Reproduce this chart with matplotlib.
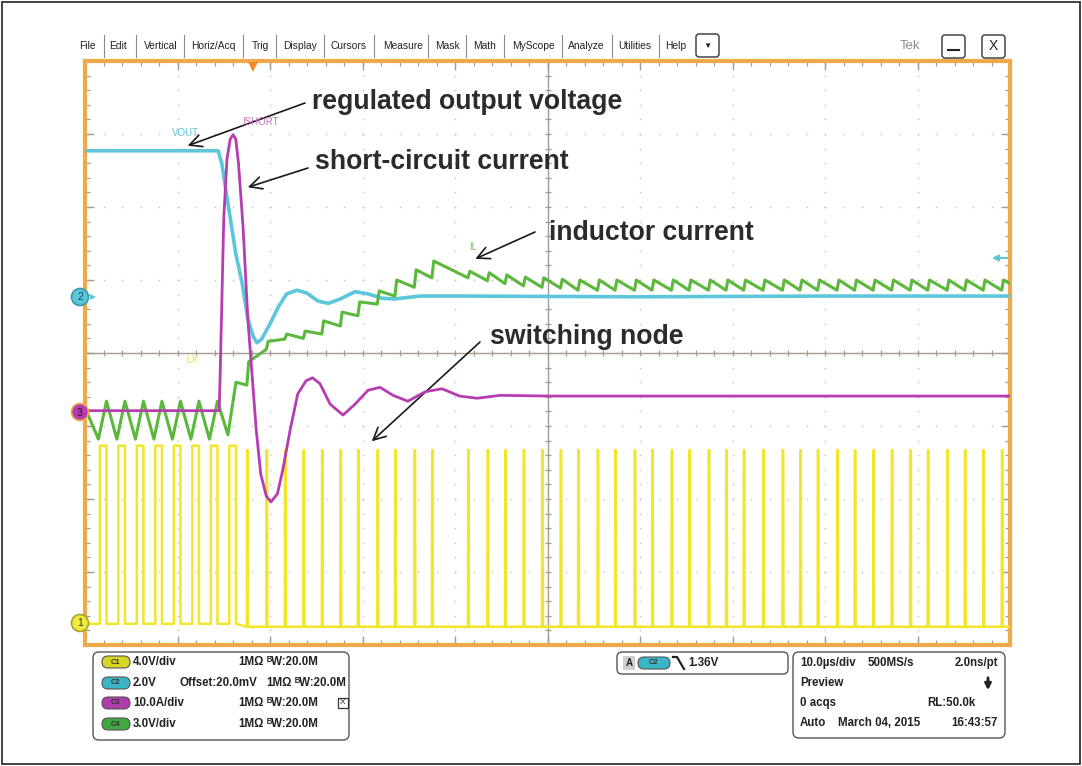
import numpy as np
import matplotlib.pyplot as plt
from matplotlib.patches import FancyBboxPatch, Rectangle, Circle

plt.rcParams['font.family'] = ['Liberation Sans', 'DejaVu Sans']

# time in µs (10 µs/div), values in screen divisions (8 div tall, 0 = centre)
vout_t = [0, 14.4, 14.8, 15.2, 15.8, 16.3, 17.0, 17.6, 18.2, 18.6, 19.1, 20.0, 20.9, 21.8,
          22.9, 24.0, 25.2, 26.3, 27.6, 29.2, 30.6, 32.1, 33.5, 36.2, 40.5, 60, 80, 100]
vout_v = [2.77, 2.77, 2.59, 2.25, 1.77, 1.36, 0.95, 0.47, 0.22, 0.14, 0.19, 0.40, 0.63, 0.81,
          0.86, 0.82, 0.71, 0.68, 0.74, 0.84, 0.81, 0.75, 0.74, 0.78, 0.78, 0.77, 0.78, 0.78]

ishort_t = [0, 14.5, 14.6, 14.8, 15.0, 15.35, 15.7, 16.0, 16.3, 16.6, 17.1, 17.6, 18.1, 18.5,
            19.0, 19.6, 20.1, 20.8, 21.4, 22.2, 23.0, 23.9, 24.6, 25.4, 26.5, 27.9, 29.2,
            30.6, 31.9, 33.3, 34.9, 36.8, 38.6, 40.5, 42.4, 44.9, 50.3, 100]
ishort_v = [-0.79, -0.79, -0.36, 0.74, 1.84, 2.66, 2.93, 2.99, 2.93, 2.59, 1.70, 0.47, -0.36,
            -1.04, -1.66, -1.96, -2.04, -1.93, -1.59, -1.04, -0.56, -0.38, -0.34, -0.42, -0.70,
            -0.85, -0.70, -0.51, -0.47, -0.58, -0.66, -0.53, -0.49, -0.59, -0.62, -0.58, -0.59,
            -0.59]

# switching node (LX): wide pulses before the short, narrow spikes after it
sw_pre = [1.6, 3.6, 5.6, 7.6, 9.6, 11.6, 13.6, 15.6]
sw_post = [17.5, 19.6, 21.6, 23.6, 25.6, 27.6, 29.5, 31.6, 33.5, 35.6, 37.5, 41.4, 43.5,
           45.4, 47.4, 49.4, 51.4, 53.3, 55.4, 57.3, 59.4, 61.3, 63.4, 65.3, 67.4, 69.3,
           71.2, 73.3, 75.4, 77.3, 79.2, 81.3, 83.2, 85.2, 87.2, 89.2, 91.1, 93.2, 95.1,
           97.1, 99.1]
lx_pre_low, lx_pre_high = -3.71, -1.27
lx_post_low, lx_post_high = -3.75, -1.33

# inductor current: valley / peak of each switching cycle
il_start = -0.75
il_pre_lo = [-1.18, -1.18, -1.18, -1.18, -1.18, -1.18, -1.18, -1.12]
il_pre_hi = [-0.66, -0.66, -0.66, -0.66, -0.66, -0.66, -0.66, -0.40]
il_post_lo = [-0.44, 0.05, 0.19, 0.20, 0.26, 0.37, 0.51, 0.67, 0.78, 0.90, 1.03, 1.03, 0.99,
              0.95, 0.92, 0.90, 0.89, 0.86, 0.86, 0.86, 0.86, 0.86, 0.86, 0.86, 0.86, 0.86,
              0.86, 0.86, 0.86, 0.86, 0.86, 0.86, 0.86, 0.86, 0.86, 0.86, 0.86, 0.86, 0.86,
              0.86, 0.86]
il_post_hi = [-0.12, 0.16, 0.26, 0.30, 0.44, 0.56, 0.70, 0.85, 1.00, 1.14, 1.26, 1.12, 1.10,
              1.07, 1.04, 1.03, 1.01, 1.00, 1.00, 1.00, 1.00, 1.00, 1.00, 1.00, 1.00, 1.00,
              1.00, 1.00, 1.00, 1.00, 1.00, 1.00, 1.00, 1.00, 1.00, 1.00, 1.00, 1.00, 1.00,
              1.00, 1.00]
il_end = 0.95
on_pre, on_post = 0.72, 0.08

YEL, CYA, MAG, GRN = '#f2e62a', '#5cc6da', '#b63cb2', '#5cb83c'
ORANGE = '#f0a94a'

W, H = 1082, 766
fig = plt.figure(figsize=(W / 100, H / 100), dpi=100)
L, R, T, B = 85, 1010, 61, 645
ax = fig.add_axes([L / W, 1 - B / H, (R - L) / W, (B - T) / H])
ax.set_xlim(0, 100)
ax.set_ylim(-4, 4)
ax.set_xticks([])
ax.set_yticks([])
for s in ax.spines.values():
    s.set_color(ORANGE)
    s.set_linewidth(3)

px = 100 / (R - L)
py = 8 / (B - T)

# graticule
dot_y = np.arange(-4, 4.01, 0.2)
dot_x = np.arange(0, 100.1, 2)
for x in range(10, 100, 10):
    if x != 50:
        ax.plot([x] * len(dot_y), dot_y, ls='none', marker='s', ms=1.1, color='#c4c4c4', mew=0)
for y in range(-3, 4):
    if y != 0:
        ax.plot(dot_x, [y] * len(dot_x), ls='none', marker='s', ms=1.1, color='#c4c4c4', mew=0)
gc = '#a29c92'
ax.axhline(0, color=gc, lw=1)
ax.axvline(50, color=gc, lw=1)
minx = np.arange(2, 100, 2)
miny = np.arange(-3.8, 4, 0.2)
ax.vlines(minx, -3 * py, 3 * py, color=gc, lw=0.9)
ax.hlines(miny, 50 - 3 * px, 50 + 3 * px, color=gc, lw=0.9)
ax.vlines(minx, 4 - 5 * py, 4, color=gc, lw=0.9)
ax.vlines(minx, -4, -4 + 5 * py, color=gc, lw=0.9)
ax.hlines(miny, 0, 5 * px, color=gc, lw=0.9)
ax.hlines(miny, 100 - 5 * px, 100, color=gc, lw=0.9)
majx = np.arange(10, 100, 10)
majy = np.arange(-3, 4, 1)
ax.vlines(majx, 4 - 9 * py, 4, color=gc, lw=1)
ax.vlines(majx, -4, -4 + 9 * py, color=gc, lw=1)
ax.hlines(majy, 0, 9 * px, color=gc, lw=1)
ax.hlines(majy, 100 - 9 * px, 100, color=gc, lw=1)

# LX trace
lx_t, lx_v = [0], [lx_pre_low]
for t in sw_pre:
    lx_t += [t, t, t + on_pre, t + on_pre]
    lx_v += [lx_pre_low, lx_pre_high, lx_pre_high, lx_pre_low]
for t in sw_post:
    lx_t += [t, t + 0.03, t + on_post, t + on_post + 0.03]
    lx_v += [lx_post_low, lx_post_high, lx_post_high, lx_post_low]
lx_t.append(100)
lx_v.append(lx_post_low)
ax.plot(lx_t, lx_v, color=YEL, lw=1.8, zorder=3)

# inductor current
il_t, il_v = [0], [il_start]
for t, lo, hi in zip(sw_pre, il_pre_lo, il_pre_hi):
    il_t += [t - 0.15, t + on_pre]
    il_v += [lo, hi]
for t, lo, hi in zip(sw_post, il_post_lo, il_post_hi):
    il_t += [t, t + 0.2]
    il_v += [lo, hi]
il_t.append(100)
il_v.append(il_end)
ax.plot(vout_t, vout_v, color=CYA, lw=2.6, zorder=4)
ax.plot(il_t, il_v, color=GRN, lw=2.2, zorder=5)
ax.plot(ishort_t, ishort_v, color=MAG, lw=2.0, zorder=6)

# overlay in figure pixels for the scope UI
ui = fig.add_axes([0, 0, 1, 1], zorder=5)
ui.set_xlim(0, W)
ui.set_ylim(H, 0)
ui.axis('off')
ui.add_patch(Rectangle((2, 2), W - 4, H - 4, fc='none', ec='#222', lw=1.2))

menu = ['File', 'Edit', 'Vertical', 'Horiz/Acq', 'Trig', 'Display', 'Cursors', 'Measure',
        'Mask', 'Math', 'MyScope', 'Analyze', 'Utilities', 'Help']
menu_x = [87, 118, 161, 213, 260, 300, 349, 403, 448, 485, 533, 586, 635, 676]
seps = [104, 136, 184, 243, 276, 324, 374, 428, 466, 504, 562, 612, 659]
for m, x in zip(menu, menu_x):
    ui.text(x, 46, m, fontsize=7.4, ha='center', va='center', color='#222')
for x in seps:
    ui.plot([x, x], [35, 57], color='#8a8a8a', lw=0.8)


def rbox(x, y, w, h, r=4, fc='white', ec='#333', lw=1.0):
    ui.add_patch(FancyBboxPatch((x, y), w, h, boxstyle=f'round,pad=0,rounding_size={r}',
                                fc=fc, ec=ec, lw=lw))


rbox(696, 34, 23, 23, 3)
ui.text(707.5, 46, '▼', fontsize=6, ha='center', va='center', color='#222')
ui.text(910, 46, 'Tek', fontsize=9.5, ha='center', va='center', color='#8c8c8c')
rbox(942, 35, 23, 23, 3)
ui.plot([948, 959], [50, 50], color='#222', lw=1.5)
rbox(982, 35, 23, 23, 3)
ui.text(993.5, 46.5, 'X', fontsize=10, ha='center', va='center', color='#222')

# trigger position and level markers
ui.plot([253], [67], marker='v', ms=7, color='#f08a2a', mew=0)
ui.annotate('', xy=(989, 258), xytext=(1010, 258),
            arrowprops=dict(arrowstyle='-|>', color=CYA, lw=1.5, mutation_scale=9))

# channel reference markers
for lab, y, fc, ec, tc in [('2', 297, CYA, '#3a98aa', '#17485a'),
                           ('3', 412, MAG, ORANGE, '#2a0a2a'),
                           ('1', 623, '#eeea3a', '#a8a030', '#333')]:
    ui.add_patch(Circle((80, y), 8.5, fc=fc, ec=ec, lw=1.2, zorder=7))
    ui.text(80, y + 0.5, lab, fontsize=7.5, ha='center', va='center', color=tc, zorder=8)
ui.plot([93], [297], marker='>', ms=4, color=CYA, mew=0)

# small trace labels
ui.text(185, 133, 'VOUT', fontsize=7, ha='center', va='center', color=CYA)
ui.text(260, 122, 'ISHORT', fontsize=7, ha='center', va='center', color='#c870c6')
ui.text(192, 360, 'LX', fontsize=7, ha='center', va='center', color='#e8dc50')
ui.text(473, 247, 'IL', fontsize=7, ha='center', va='center', color='#7cc860')

# annotations
notes = [('regulated output voltage', 312, 102, (305, 103), (11.1, 2.84)),
         ('short-circuit current', 315, 162, (308, 168), (17.6, 2.27)),
         ('inductor current', 549, 233, (535, 232), (42.2, 1.29)),
         ('switching node', 490, 337, (480, 342), (31.0, -1.21))]
for txt, x, y, tail, head in notes:
    ui.text(x, y, txt, fontsize=19.2, weight='bold', ha='left', va='center', color='#2b2b2b')
    ax.annotate('', xy=head, xycoords='data', xytext=tail, textcoords=ui.transData,
                arrowprops=dict(arrowstyle='->', color='#1a1a1a', lw=1.2, mutation_scale=22,
                                shrinkA=0, shrinkB=0))

# channel settings box
rbox(93, 652, 256, 88, 6, ec='#555')
pill_c = ['#d8d424', '#3cb4c8', '#b03cb0', '#40a840']
rows = [662, 683, 703, 724]
for i, (y, c) in enumerate(zip(rows, pill_c)):
    rbox(102, y - 6, 28, 12, 6, fc=c, ec='#555', lw=0.8)
    ui.text(116, y, f'C{i + 1}', fontsize=5.5, weight='bold', ha='center', va='center', color='#333')
bold = dict(fontsize=8.3, weight='bold', va='center', color='#222')
ui.text(133, rows[0], '4.0V/div', **bold)
ui.text(133, rows[1], '2.0V', **bold)
ui.text(180, rows[1], 'Offset:20.0mV', **bold)
ui.text(133, rows[2], '10.0A/div', **bold)
ui.text(133, rows[3], '3.0V/div', **bold)
for y, x in zip(rows, [238, 266, 238, 238]):
    ui.text(x, y, '1MΩ', **bold)
    ui.text(x + 29, y, 'ᴮW:20.0M', **bold)
ui.add_patch(Rectangle((338, rows[2] - 5), 10, 10, fc='white', ec='#333', lw=0.9))
ui.text(343, rows[2], 'X', fontsize=6, ha='center', va='center', color='#222')

# trigger box
rbox(617, 652, 171, 22, 5, ec='#555')
ui.add_patch(Rectangle((623, 656), 12, 14, fc='#cfcfcf', ec='none'))
ui.text(629, 663, 'A', fontsize=7, weight='bold', ha='center', va='center', color='#222')
rbox(638, 657, 32, 12, 6, fc='#3cb4c8', ec='#555', lw=0.8)
ui.text(654, 663, 'C2', fontsize=5.5, weight='bold', ha='center', va='center', color='#333')
ui.plot([673, 677, 684], [657, 657, 669], color='#222', lw=1.6)
ui.text(688, 663, '1.36V', **bold)

# timebase box
rbox(793, 652, 212, 86, 6, ec='#555')
rr = [663, 683, 703, 723]
ui.text(800, rr[0], '10.0µs/div', **bold)
ui.text(868, rr[0], '500MS/s', **bold)
ui.text(998, rr[0], '2.0ns/pt', ha='right', **bold)
ui.text(800, rr[1], 'Preview', **bold)
ui.annotate('', xy=(988, 693), xytext=(988, 675),
            arrowprops=dict(arrowstyle='-|>', color='#222', lw=2, mutation_scale=9))
ui.text(800, rr[2], '0 acqs', **bold)
ui.text(976, rr[2], 'RL:50.0k', ha='right', **bold)
ui.text(800, rr[3], 'Auto', **bold)
ui.text(838, rr[3], 'March 04, 2015', **bold)
ui.text(998, rr[3], '16:43:57', ha='right', **bold)

fig.savefig('out.png', dpi=100)
